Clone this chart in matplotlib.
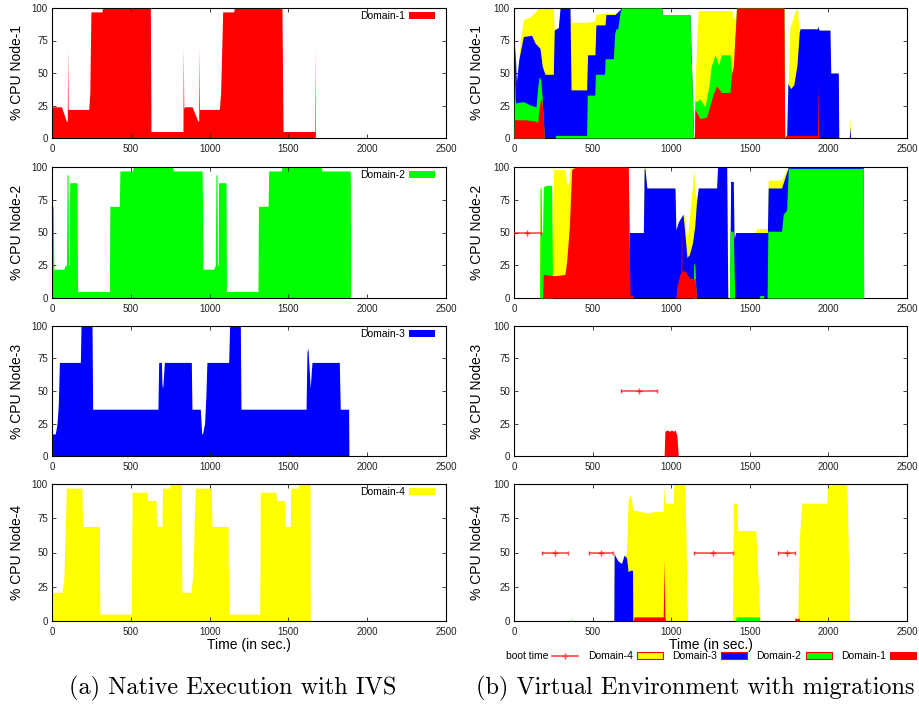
import matplotlib
matplotlib.use('Agg')
import matplotlib.pyplot as plt
from matplotlib.patches import Patch
from matplotlib.lines import Line2D

plt.rcParams['font.family'] = ['Liberation Sans', 'DejaVu Sans']

RED, GREEN, BLUE, YELLOW = '#ff0000', '#00ff00', '#0000ff', '#ffff00'

x_ticks = [0, 500, 1000, 1500, 2000, 2500]
y_ticks = [0, 25, 50, 75, 100]
node_labels = ['% CPU Node-1', '% CPU Node-2', '% CPU Node-3', '% CPU Node-4']
domain_labels = ['Domain-1', 'Domain-2', 'Domain-3', 'Domain-4']

# ---------------- (a) Native execution: one domain per node ----------------
a1_t = [0, 5, 60, 91, 97, 99, 102, 106, 233, 240, 247, 317, 320, 624, 628, 831, 833, 836, 840, 889,
        926, 931, 933, 936, 941, 1062, 1070, 1083, 1153, 1156, 1459, 1466, 1667, 1669, 1671]
a1_v = [22, 24, 24, 13, 13, 70, 22, 22, 22, 35, 97, 97, 100, 100, 5, 5, 70, 22, 24, 24,
        13, 13, 70, 22, 22, 22, 35, 97, 97, 100, 100, 5, 5, 70, 0]

a2_t = [0, 3, 8, 12, 74, 85, 92, 95, 102, 105, 110, 112, 159, 162, 364, 367, 427, 431, 512, 515,
        766, 769, 952, 955, 958, 1026, 1036, 1040, 1047, 1050, 1055, 1057, 1104, 1107, 1307, 1310,
        1371, 1375, 1455, 1458, 1709, 1712, 1893, 1895]
a2_v = [0, 70, 70, 22, 22, 25, 25, 94, 94, 25, 25, 88, 88, 5, 5, 70, 70, 97, 97, 100,
        100, 97, 97, 70, 22, 22, 25, 94, 94, 25, 25, 88, 88, 5, 5, 70,
        70, 97, 97, 100, 100, 97, 97, 0]

a3_t = [0, 21, 32, 40, 47, 180, 184, 254, 258, 672, 677, 694, 698, 702, 707, 713, 884, 888, 941, 950,
        955, 968, 976, 983, 1121, 1127, 1195, 1199, 1612, 1618, 1624, 1630, 1639, 1645, 1650, 1823,
        1829, 1882, 1884]
a3_v = [17, 17, 25, 40, 72, 72, 100, 100, 36, 36, 72, 72, 55, 52, 60, 72, 72, 36, 36, 17,
        17, 25, 45, 72, 72, 100, 100, 36, 36, 80, 83, 70, 52, 65, 72, 72,
        36, 36, 0]

a4_t = [0, 63, 75, 85, 91, 190, 194, 300, 304, 504, 508, 603, 606, 660, 663, 698, 701, 747, 750, 821,
        824, 882, 895, 903, 910, 1011, 1015, 1117, 1121, 1318, 1322, 1421, 1425, 1474, 1478, 1512,
        1515, 1563, 1566, 1637, 1639]
a4_v = [21, 21, 30, 70, 97, 97, 69, 69, 5, 5, 94, 94, 88, 88, 69, 69, 97, 97, 100, 100,
        21, 21, 35, 75, 97, 97, 69, 69, 5, 5, 94, 94, 88, 88, 69, 69,
        97, 97, 100, 100, 0]

# ---------------- (b) Virtual env: stacked tops (D1..D4, D1..D3, D1..D2, D1) ----------------
# Node-1
b1_top4_t = [0, 3, 6, 10, 18, 40, 59, 102, 144, 150, 250, 256, 282, 293, 356, 367, 462, 514, 520, 567,
             641, 660, 684, 939, 945, 1119, 1143, 1148, 1151, 1162, 1172, 1385, 1395, 1406, 1416, 1717,
             1722, 1735, 1745, 1755, 1770, 1790, 1803, 1815, 1820, 1930, 1935, 1940, 2010, 2015, 2063,
             2066, 2133, 2137, 2141]
b1_top4_v = [0, 70, 83, 50, 43, 75, 91, 93, 98, 100, 100, 84, 85, 100, 100, 89, 89, 90, 95, 96,
             96, 98, 100, 100, 95, 95, 0, 0, 40, 73, 98, 98, 92, 92, 100, 100,
             0, 2, 42, 85, 90, 98, 99, 82, 84, 84, 86, 83, 83, 50, 50,
             0, 0, 16, 0]
b1_top3_t = [0, 3, 6, 10, 15, 30, 59, 112, 134, 165, 180, 197, 250, 256, 282, 293, 356, 363, 462, 468,
             515, 521, 579, 585, 642, 660, 684, 939, 945, 1119, 1143, 1730, 1735, 1742, 1760, 1780,
             1800, 1815, 1820, 1930, 1935, 1940, 2010, 2015, 2063, 2066, 2133, 2137, 2141]
b1_top3_v = [0, 50, 70, 60, 43, 60, 78, 79, 73, 69, 55, 49, 49, 83, 85, 100, 100, 37, 37, 64,
             64, 87, 87, 95, 95, 97, 100, 100, 95, 95, 0, 0, 2, 42, 38, 41,
             56, 82, 84, 84, 86, 83, 83, 50, 50, 0, 0, 9, 0]
b1_top2_t = [0, 4, 8, 12, 60, 110, 140, 152, 160, 170, 180, 193, 261, 265, 455, 462, 466, 514, 518, 576,
             580, 632, 640, 649, 660, 675, 685, 939, 945, 1119, 1143, 1148, 1151, 1160, 1183, 1215,
             1240, 1254, 1280, 1300, 1320, 1374, 1385, 1395, 1416, 1717, 1722]
b1_top2_v = [0, 52, 30, 27, 28, 25, 24, 40, 47, 45, 30, 0, 0, 2, 2, 2, 33, 33, 49, 49,
             61, 61, 80, 84, 84, 97, 100, 100, 95, 95, 0, 0, 29, 28, 30, 24,
             40, 55, 64, 56, 64, 64, 50, 50, 100, 100, 0]
b1_top1_t = [0, 3, 75, 134, 150, 165, 175, 185, 193, 1148, 1151, 1183, 1225, 1268, 1289, 1320, 1374,
             1385, 1395, 1416, 1717, 1722, 1730, 1930, 1935, 1938, 1945]
b1_top1_v = [0, 14, 14, 13, 12, 28, 30, 20, 0, 0, 22, 15, 16, 34, 40, 35, 35,
             50, 55, 100, 100, 0, 2, 2, 43, 2, 0]

# Node-2
b2_top4_t = [0, 163, 166, 172, 176, 182, 187, 208, 239, 245, 252, 324, 335, 346, 356, 367, 377, 727, 735,
             748, 823, 828, 833, 845, 1024, 1030, 1045, 1075, 1090, 1100, 1115, 1135, 1143, 1150, 1160,
             1172, 1289, 1295, 1353, 1360, 1372, 1378, 1395, 1400, 1410, 1533, 1543, 1607, 1612, 1617,
             1702, 1745, 2222, 2224]
b2_top4_v = [0, 0, 84, 84, 50, 50, 85, 86, 86, 30, 98, 98, 87, 87, 99, 99, 100, 100, 50,
             50, 50, 99, 99, 84, 84, 52, 58, 64, 60, 42, 60, 85, 99, 82, 75,
             84, 84, 100, 100, 0, 0, 89, 89, 45, 50, 50, 53, 53, 53, 90,
             90, 100, 100, 0]
b2_top3_t = [0, 727, 735, 748, 823, 828, 833, 845, 1024, 1030, 1045, 1075, 1090, 1100, 1115, 1135, 1150,
             1160, 1172, 1289, 1295, 1353, 1360, 1372, 1378, 1395, 1400, 1410, 1533, 1607, 1612, 1617,
             1702, 1745, 2222, 2224]
b2_top3_v = [0, 0, 50, 50, 50, 99, 99, 84, 84, 52, 58, 64, 45, 31, 33, 42, 55,
             72, 84, 84, 100, 100, 0, 0, 89, 89, 45, 50, 50, 50, 50, 84,
             84, 100, 100, 0]
b2_top2_t = [0, 163, 166, 172, 176, 182, 187, 208, 239, 246, 1140, 1143, 1150, 1160, 1370, 1375, 1395,
             1404, 1560, 1565, 1586, 1590, 1610, 1615, 1702, 1713, 1734, 1745, 2222, 2224]
b2_top2_v = [0, 0, 84, 84, 50, 50, 85, 86, 86, 0, 0, 26, 26, 0, 0, 51, 51,
             0, 0, 2, 2, 0, 0, 51, 51, 64, 67, 99, 99, 0]
b2_top1_t = [0, 183, 186, 260, 324, 335, 352, 367, 377, 399, 727, 738, 755, 759, 1030, 1035, 1045, 1055,
             1063, 1066, 1069, 1085, 1119, 1151, 1162]
b2_top1_v = [0, 0, 18, 17, 18, 28, 54, 98, 99, 100, 100, 2, 2, 0, 0, 8, 13, 18,
             20, 60, 20, 21, 15, 15, 0]
b2_boot_x, b2_boot_err = [85], [85]

# Node-3
b3_top1_t = [0, 955, 960, 975, 990, 1000, 1015, 1025, 1036, 1045]
b3_top1_v = [0, 0, 19, 20, 19, 20, 19, 20, 16, 0]
b3_boot_x, b3_boot_err = [794], [115]

# Node-4
b4_top4_t = [0, 635, 637, 660, 684, 700, 710, 716, 726, 737, 747, 758, 800, 850, 900, 949, 954, 962, 1013,
             1017, 1087, 1104, 1390, 1395, 1417, 1423, 1538, 1565, 1805, 1815, 1831, 1990, 1995, 2118, 2135]
b4_top4_v = [0, 0, 49, 44, 42, 48, 47, 52, 88, 92, 88, 81, 80, 79, 80, 80, 98, 86, 86,
             100, 100, 0, 0, 86, 86, 66, 66, 0, 0, 60, 86, 86, 99, 100, 0]
b4_top3_t = [0, 635, 637, 660, 684, 700, 710, 716, 726, 740, 754, 756]
b4_top3_v = [0, 0, 49, 44, 42, 48, 47, 46, 36, 37, 37, 0]
b4_top2_t = [0, 362, 365, 368, 1410, 1412, 1561, 1563]
b4_top2_v = [0, 0, 2.5, 0, 0, 3, 3, 0]
b4_top1_t = [0, 760, 763, 949, 952, 955, 960, 966, 1785, 1788, 1800, 1810, 1820]
b4_top1_v = [0, 0, 3, 3, 20, 45, 3, 0, 0, 2.5, 1.5, 2.5, 0]
b4_boot_x = [263, 552, 1268, 1735]
b4_boot_err = [83, 75, 125, 53]
boot_level = 50

# ---------------- figure ----------------
W, H = 920, 704
fig = plt.figure(figsize=(W / 100, H / 100), dpi=100)
rows = [(8, 138), (167, 298), (326, 456), (484, 621)]
cols = [(52, 446), (514, 907)]


def make_ax(col, row):
    x0, x1 = cols[col]
    t, b = rows[row]
    return fig.add_axes([x0 / W, 1 - b / H, (x1 - x0) / W, (b - t) / H])


def style(ax, ylabel, lx, xlabel=False):
    ax.set_xlim(0, 2500)
    ax.set_ylim(0, 100)
    ax.set_xticks(x_ticks)
    ax.set_yticks(y_ticks)
    ax.tick_params(direction='in', length=3, width=0.6, labelsize=7, top=True, right=True,
                   colors='#222222')
    ax.tick_params(axis='x', pad=4)
    ax.tick_params(axis='y', pad=3)
    for s in ax.spines.values():
        s.set_linewidth(0.8)
    ax.set_ylabel(ylabel, fontsize=10)
    ax.yaxis.set_label_coords(lx, 0.5)
    if xlabel:
        ax.set_xlabel('Time (in sec.)', fontsize=10, labelpad=1)


left = [(a1_t, a1_v, RED), (a2_t, a2_v, GREEN), (a3_t, a3_v, BLUE), (a4_t, a4_v, YELLOW)]
for i, (t, v, c) in enumerate(left):
    ax = make_ax(0, i)
    ax.fill_between(t, 0, v, color=c, lw=0)
    style(ax, node_labels[i], -0.071, xlabel=(i == 3))
    ax.legend([Patch(facecolor=c, lw=0)], [domain_labels[i]], loc='upper right',
              bbox_to_anchor=(0.977, 0.99), frameon=False, markerfirst=False, fontsize=7.5,
              handlelength=2.5, handleheight=0.6, handletextpad=0.4, borderpad=0.2, borderaxespad=0)

right = [
    [(b1_top4_t, b1_top4_v), (b1_top3_t, b1_top3_v), (b1_top2_t, b1_top2_v), (b1_top1_t, b1_top1_v)],
    [(b2_top4_t, b2_top4_v), (b2_top3_t, b2_top3_v), (b2_top2_t, b2_top2_v), (b2_top1_t, b2_top1_v)],
    [None, None, None, (b3_top1_t, b3_top1_v)],
    [(b4_top4_t, b4_top4_v), (b4_top3_t, b4_top3_v), (b4_top2_t, b4_top2_v), (b4_top1_t, b4_top1_v)],
]
boots = [None, (b2_boot_x, b2_boot_err), (b3_boot_x, b3_boot_err), (b4_boot_x, b4_boot_err)]
for i, layers in enumerate(right):
    ax = make_ax(1, i)
    for k, (layer, c) in enumerate(zip(layers, [YELLOW, BLUE, GREEN, RED])):
        if layer is None:
            continue
        t, v = layer
        ax.fill_between(t, 0, v, color=c, lw=0, zorder=1 + k)
    if boots[i] is not None:
        bx, be = boots[i]
        ax.errorbar(bx, [boot_level] * len(bx), xerr=be, fmt='+', color='red', ecolor='red',
                    alpha=0.7, capsize=1.5, elinewidth=1.2, ms=4, mew=1, zorder=10)
    style(ax, node_labels[i], -0.076, xlabel=(i == 3))

handles = [Line2D([], [], color='#ff4444', lw=1.2, marker='+', ms=4),
           Patch(facecolor=YELLOW, edgecolor='red', lw=0.8),
           Patch(facecolor=BLUE, edgecolor='red', lw=0.8),
           Patch(facecolor=GREEN, edgecolor='red', lw=0.8),
           Patch(facecolor=RED, edgecolor='red', lw=0.8)]
labels = ['boot time', 'Domain-4', 'Domain-3', 'Domain-2', 'Domain-1']
fig.legend(handles, labels, loc='center', bbox_to_anchor=(711 / W, 1 - 656 / H), ncol=5,
           frameon=False, markerfirst=False, fontsize=7.5, handlelength=2.5, handleheight=0.6,
           handletextpad=0.4, columnspacing=0.9, borderpad=0)

fig.text(233 / W, 1 - 688 / H, '(a) Native Execution with IVS', ha='center', va='center',
         fontsize=17.5, family='cmr10')
fig.text(695 / W, 1 - 688 / H, '(b) Virtual Environment with migrations', ha='center', va='center',
         fontsize=17.5, family='cmr10')

fig.savefig('out.png', dpi=100)
